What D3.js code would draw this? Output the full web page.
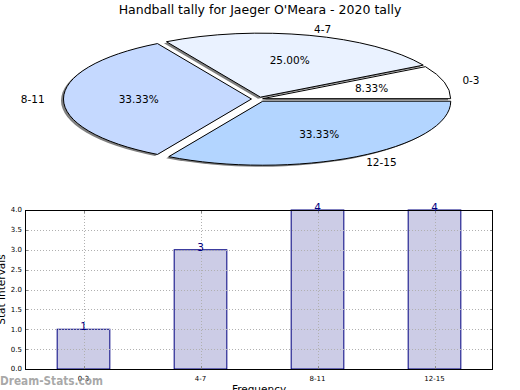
<!DOCTYPE html>
<html>
<head>
<meta charset="utf-8">
<script src="https://cdn.jsdelivr.net/npm/d3@7/dist/d3.min.js"></script>
<style>
  body { margin: 0; background: #fff; }
  svg { display: block; font-family: "DejaVu Sans", sans-serif; }
</style>
</head>
<body>
<svg id="chart" width="520" height="390"></svg>
<script>
const categories = ['0-3', '4-7', '8-11', '12-15'];
const counts = [1, 3, 4, 4];
const explode = [0.02, 0.03, 0.04, 0.04];
const sliceColors = ['#ffffff', '#eaf2ff', '#c5d9ff', '#b3d5ff'];
const yTicks = [0, 0.5, 1, 1.5, 2, 2.5, 3, 3.5, 4];

const svg = d3.select('#chart');

svg.append('text')
    .attr('x', 260).attr('y', 14)
    .attr('text-anchor', 'middle')
    .attr('font-size', 12.5)
    .text("Handball tally for Jaeger O'Meara - 2020 tally");

// --- Pie (squashed into an ellipse) ---
const cx = 259, cy = 99, rx = 188, ry = 64;
const total = d3.sum(counts);

const pie = d3.pie().sort(null)
    .startAngle(Math.PI / 2)
    .endAngle(Math.PI / 2 - 2 * Math.PI);
const arcs = pie(counts);
const arc = d3.arc().innerRadius(0).outerRadius(1);

// mid angle in matplotlib terms (ccw from east)
const midTheta = d => Math.PI / 2 - (d.startAngle + d.endAngle) / 2;

const pieG = svg.append('g');

// shadow
pieG.selectAll('path.shadow').data(arcs).join('path')
    .attr('class', 'shadow')
    .attr('transform', (d, i) => {
        const t = midTheta(d);
        return `translate(${cx - 2.5 + explode[i] * rx * Math.cos(t)},${cy + 1.5 - explode[i] * ry * Math.sin(t)}) scale(${rx},${ry})`;
    })
    .attr('d', arc)
    .attr('fill', '#000')
    .attr('fill-opacity', 0.5);

pieG.selectAll('path.wedge').data(arcs).join('path')
    .attr('class', 'wedge')
    .attr('transform', (d, i) => {
        const t = midTheta(d);
        return `translate(${cx + explode[i] * rx * Math.cos(t)},${cy - explode[i] * ry * Math.sin(t)}) scale(${rx},${ry})`;
    })
    .attr('d', arc)
    .attr('fill', (d, i) => sliceColors[i])
    .attr('stroke', '#000')
    .attr('stroke-width', 1)
    .attr('vector-effect', 'non-scaling-stroke');

arcs.forEach((d, i) => {
    const t = midTheta(d);
    const ox = cx + explode[i] * rx * Math.cos(t);
    const oy = cy - explode[i] * ry * Math.sin(t);
    const c = Math.cos(t), s = Math.sin(t);
    pieG.append('text')
        .attr('x', ox + 1.1 * rx * c)
        .attr('y', oy - 1.1 * ry * s)
        .attr('dy', '0.35em')
        .attr('font-size', 10.5)
        .attr('text-anchor', c > 0.01 ? 'start' : (c < -0.01 ? 'end' : 'middle'))
        .text(categories[i]);
    pieG.append('text')
        .attr('x', ox + 0.6 * rx * c)
        .attr('y', oy - 0.6 * ry * s)
        .attr('dy', '0.35em')
        .attr('font-size', 10.5)
        .attr('text-anchor', 'middle')
        .text((counts[i] / total * 100).toFixed(2) + '%');
});

// --- Bar chart ---
const plotL = 25, plotR = 493, plotT = 210, plotB = 369;
const x = d3.scaleBand().domain(categories).range([plotL, plotR]);
const y = d3.scaleLinear().domain([0, 4]).range([plotB, plotT]);
const barW = x.bandwidth() * 0.45;
const xc = c => x(c) + x.bandwidth() / 2;

const barG = svg.append('g');

barG.selectAll('rect.bar').data(categories).join('rect')
    .attr('class', 'bar')
    .attr('x', c => xc(c) - barW / 2)
    .attr('y', (c, i) => y(counts[i]))
    .attr('width', barW)
    .attr('height', (c, i) => y(0) - y(counts[i]))
    .attr('fill', '#ccccE6')
    .attr('stroke', '#000080')
    .attr('stroke-width', 1);

// grid (drawn over the bars)
barG.selectAll('line.hgrid').data(yTicks.slice(1, -1)).join('line')
    .attr('x1', plotL).attr('x2', plotR)
    .attr('y1', d => Math.round(y(d)) + 0.5).attr('y2', d => Math.round(y(d)) + 0.5)
    .attr('stroke', '#b0b0b0').attr('stroke-dasharray', '1,2');
barG.selectAll('line.vgrid').data(categories).join('line')
    .attr('x1', c => Math.round(xc(c)) + 0.5).attr('x2', c => Math.round(xc(c)) + 0.5)
    .attr('y1', plotT).attr('y2', plotB)
    .attr('stroke', '#b0b0b0').attr('stroke-dasharray', '1,2');

// tick marks inside the frame
yTicks.forEach(t => {
    const yy = Math.round(y(t)) + 0.5;
    barG.append('line').attr('x1', plotL).attr('x2', plotL + 3).attr('y1', yy).attr('y2', yy).attr('stroke', '#888');
    barG.append('line').attr('x1', plotR - 3).attr('x2', plotR).attr('y1', yy).attr('y2', yy).attr('stroke', '#888');
});
categories.forEach(c => {
    const xx = Math.round(xc(c)) + 0.5;
    barG.append('line').attr('x1', xx).attr('x2', xx).attr('y1', plotB - 3).attr('y2', plotB).attr('stroke', '#888');
    barG.append('line').attr('x1', xx).attr('x2', xx).attr('y1', plotT).attr('y2', plotT + 3).attr('stroke', '#888');
});

barG.append('rect')
    .attr('x', plotL + 0.5).attr('y', plotT + 0.5)
    .attr('width', plotR - plotL - 1).attr('height', plotB - plotT)
    .attr('fill', 'none').attr('stroke', '#000').attr('stroke-width', 1);

// y tick labels
barG.selectAll('text.ytick').data(yTicks).join('text')
    .attr('class', 'ytick')
    .attr('x', plotL - 3).attr('y', d => y(d))
    .attr('dy', '0.35em')
    .attr('text-anchor', 'end')
    .attr('font-size', 7)
    .text(d => d.toFixed(1));

// x tick labels
barG.selectAll('text.xtick').data(categories).join('text')
    .attr('class', 'xtick')
    .attr('x', xc).attr('y', plotB + 12)
    .attr('text-anchor', 'middle')
    .attr('font-size', 7)
    .text(c => c);

// value labels
barG.selectAll('text.val').data(categories).join('text')
    .attr('class', 'val')
    .attr('x', xc).attr('y', (c, i) => y(counts[i]) + 1)
    .attr('text-anchor', 'middle')
    .attr('font-size', 10.5)
    .attr('fill', '#000080')
    .text((c, i) => counts[i]);

svg.append('text')
    .attr('transform', `translate(5,${(plotT + plotB) / 2}) rotate(-90)`)
    .attr('text-anchor', 'middle')
    .attr('font-size', 10.5)
    .text('Stat Intervals');

svg.append('text')
    .attr('x', (plotL + plotR) / 2).attr('y', 393)
    .attr('text-anchor', 'middle')
    .attr('font-size', 10.5)
    .text('Frequency');

svg.append('text')
    .attr('x', 0).attr('y', 385)
    .attr('font-size', 12)
    .attr('font-weight', 'bold')
    .attr('fill', '#999')
    .attr('fill-opacity', 0.85)
    .attr('textLength', 103)
    .attr('lengthAdjust', 'spacingAndGlyphs')
    .text('Dream-Stats.com');
</script>
</body>
</html>
